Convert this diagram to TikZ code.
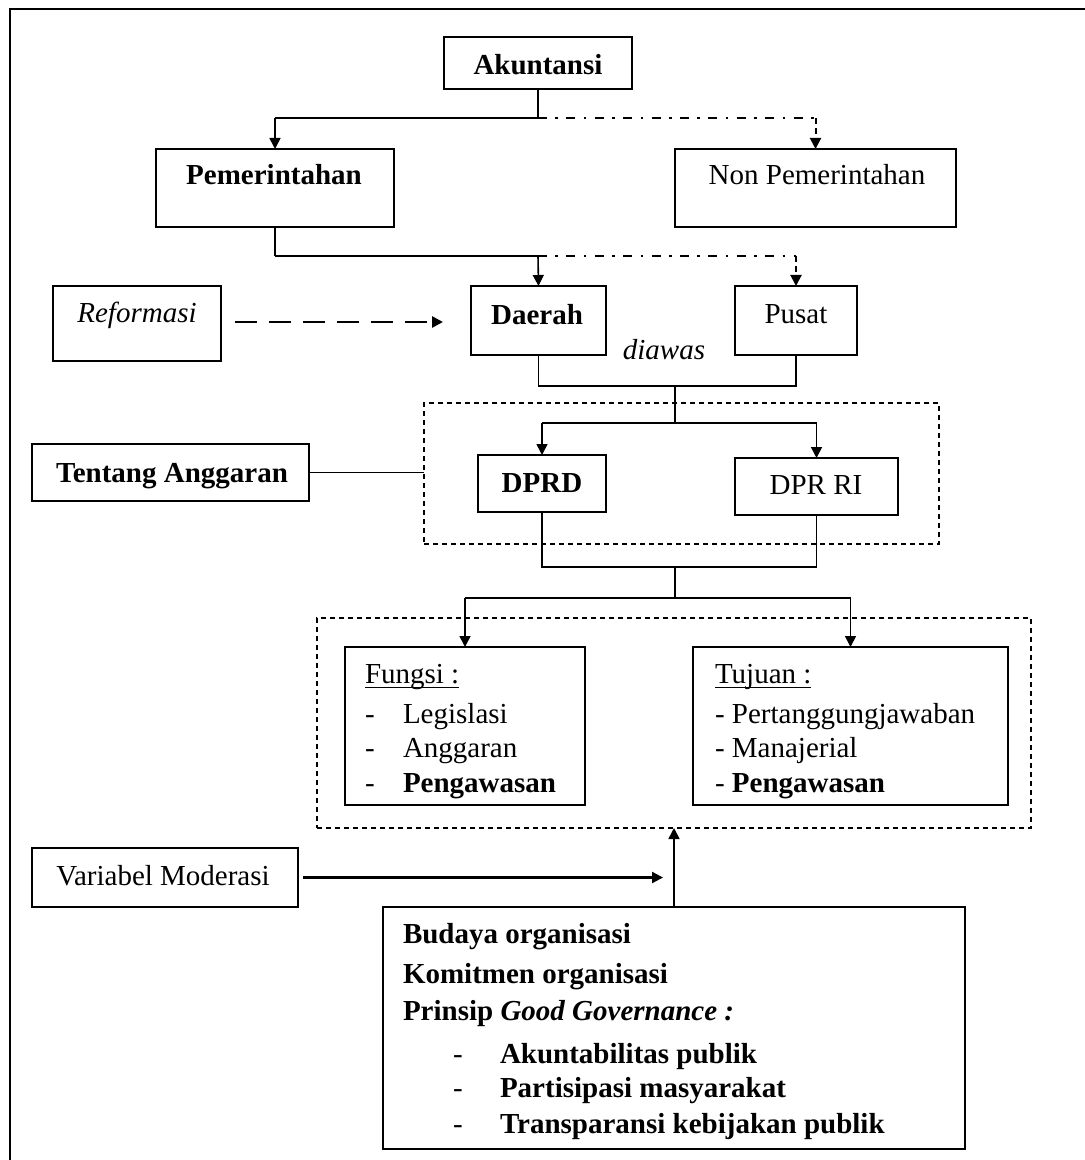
\documentclass[tikz,border=0pt]{standalone}
\usepackage{fontspec}
\setmainfont{Liberation Serif}
\usetikzlibrary{arrows.meta}
\newcommand\myuline[1]{\setbox0\hbox{#1}\rlap{\rule[-2.6pt]{\wd0}{0.8pt}}\box0}
\begin{document}
\begin{tikzpicture}[x=0.5pt,y=-0.5pt,
  every node/.style={font=\fontsize{14.5}{17}\selectfont, inner sep=0pt, outer sep=0pt},
  bx/.style={draw, line width=0.85pt, anchor=north west, inner sep=0pt},
  dbox/.style={draw, line width=0.75pt, dash pattern=on 2.5pt off 2pt, anchor=north west, inner sep=0pt},
  tx/.style={anchor=base},
  tl/.style={anchor=base west},
  cn/.style={line width=0.8pt},
  hz/.style={line width=1.2pt},
  dd/.style={line width=1pt, dash pattern=on 4.5pt off 4.2pt on 1.3pt off 4.2pt},
  dv/.style={line width=1pt, dash pattern=on 3pt off 2pt},
  arr/.style={-{Triangle[length=5.5pt,width=5.5pt]}}
]
\useasboundingbox (0,0) rectangle (1085,1160);
% outer frame (cropped on right and bottom)
\draw[line width=1pt] (10,1160) -- (10,9) -- (1085,9);

% boxes
\node[bx, minimum width=94pt, minimum height=26pt] (akun) at (444,37) {};
\node[bx, minimum width=119pt, minimum height=39pt] (pem) at (156,149) {};
\node[bx, minimum width=140.5pt, minimum height=39pt] (nonpem) at (675,149) {};
\node[bx, minimum width=84pt, minimum height=37.5pt] (refor) at (53,286) {};
\node[bx, minimum width=67.5pt, minimum height=34.5pt] (daerah) at (471,286) {};
\node[bx, minimum width=61pt, minimum height=34.5pt] (pusat) at (735,286) {};
\node[dbox, minimum width=257.5pt, minimum height=70.5pt] (boxA) at (424,403) {};
\node[bx, minimum width=138.5pt, minimum height=28.5pt] (tentang) at (32,444) {};
\node[bx, minimum width=64pt, minimum height=28.5pt] (dprd) at (478,455) {};
\node[bx, minimum width=81.5pt, minimum height=28.5pt] (dprri) at (735,458) {};
\node[dbox, minimum width=357pt, minimum height=105pt] (boxB) at (317,618) {};
\node[bx, minimum width=120pt, minimum height=79pt] (fungsi) at (345,647) {};
\node[bx, minimum width=157.5pt, minimum height=79pt] (tujuan) at (693,647) {};
\node[bx, minimum width=133pt, minimum height=29.5pt] (varmod) at (32,848) {};
\node[bx, minimum width=291pt, minimum height=121pt] (budaya) at (383,907) {};

% texts
\node[tx] (takun) at (538,75) {\textbf{Akuntansi}};
\node[tx] (tpem) at (274,185) {\textbf{Pemerintahan}};
\node[tx] (tnonpem) at (817,185) {Non Pemerintahan};
\node[tx] (trefor) at (137,322) {\textit{Reformasi}};
\node[tx] (tdaerah) at (537,324) {\textbf{Daerah}};
\node[tx] (tpusat) at (796,323) {Pusat};
\node[tx] (tdiawas) at (664,359) {\textit{diawas}};
\node[tx] (ttentang) at (172,482) {\textbf{Tentang Anggaran}};
\node[tx] (tdprd) at (542,492) {\textbf{DPRD}};
\node[tx] (tdprri) at (816,494) {DPR RI};
\node[tx] (tvarmod) at (163,885) {Variabel Moderasi};

\node[tl] (f0) at (365,683) {\myuline{Fungsi :}};
\node[tl] (f1d) at (365,723) {-};
\node[tl] (f1) at (403,723) {Legislasi};
\node[tl] (f2d) at (365,757) {-};
\node[tl] (f2) at (403,757) {Anggaran};
\node[tl] (f3d) at (365,792) {-};
\node[tl] (f3) at (403,792) {\textbf{Pengawasan}};

\node[tl] (u0) at (715,683) {\myuline{Tujuan :}};
\node[tl] (u1) at (715,723) {- Pertanggungjawaban};
\node[tl] (u2) at (715,757) {- Manajerial};
\node[tl] (u3) at (715,792) {- \textbf{Pengawasan}};

\node[tl] (b1) at (403,943) {\textbf{Budaya organisasi}};
\node[tl] (b2) at (403,983) {\textbf{Komitmen organisasi}};
\node[tl] (b3) at (403,1020) {\textbf{Prinsip \textit{Good Governance :}}};
\node[tl] (b4d) at (453,1063) {-};
\node[tl] (b4) at (500,1063) {\textbf{Akuntabilitas publik}};
\node[tl] (b5d) at (453,1097) {-};
\node[tl] (b5) at (500,1097) {\textbf{Partisipasi masyarakat}};
\node[tl] (b6d) at (453,1133) {-};
\node[tl] (b6) at (500,1133) {\textbf{Transparansi kebijakan publik}};

% junctions
\coordinate (j1) at (538,118);
\coordinate (j2) at (538,256);
\coordinate (j3) at (675,386);
\coordinate (j4) at (675,423);
\coordinate (j5) at (675,567);
\coordinate (j6) at (675,598);
\coordinate (vmend) at (663,877.5);

% Akuntansi -> Pemerintahan / Non Pemerintahan
\draw[cn] (akun.south) -- (j1);
\draw[hz] (j1) -- (j1 -| pem.north);
\draw[cn,arr] (j1 -| pem.north) -- (pem.north);
\draw[dd] (j1) -- (j1 -| nonpem.north);
\draw[dv,arr] (j1 -| nonpem.north) -- (nonpem.north);

% Pemerintahan -> Daerah / Pusat
\draw[cn] (pem.south) -- (pem.south |- j2);
\draw[hz] (pem.south |- j2) -- (j2);
\draw[cn,arr] (j2) -- (daerah.north);
\draw[dd] (j2) -- (j2 -| pusat.north);
\draw[dv,arr] (j2 -| pusat.north) -- (pusat.north);

% Reformasi -> Daerah
\draw[line width=1.3pt, dash pattern=on 11pt off 6pt, arr, shorten <=7pt, shorten >=14pt]
  (refor.east |- 0,322) -- (daerah.west |- 0,322);

% Daerah/Pusat -> DPRD / DPR RI
\draw[cn] (daerah.south) -- (daerah.south |- j3) -- (pusat.south |- j3) -- (pusat.south);
\draw[cn] (j3) -- (j4);
\draw[hz] (j4 -| dprd.north) -- (j4 -| dprri.north);
\draw[cn,arr] (j4 -| dprd.north) -- (dprd.north);
\draw[cn,arr] (j4 -| dprri.north) -- (dprri.north);

% Tentang Anggaran link
\draw[cn] (tentang.east) -- (tentang.east -| boxA.west);

% DPRD/DPR RI -> Fungsi / Tujuan
\draw[cn] (dprd.south) -- (dprd.south |- j5) -- (dprri.south |- j5) -- (dprri.south);
\draw[cn] (j5) -- (j6);
\draw[hz] (j6 -| fungsi.north) -- (j6 -| tujuan.north);
\draw[cn,arr] (j6 -| fungsi.north) -- (fungsi.north);
\draw[cn,arr] (j6 -| tujuan.north) -- (tujuan.north);

% moderation
\draw[line width=1.1pt, arr, shorten <=2.5pt] (varmod.east) -- (vmend);
\draw[cn,arr] (budaya.north) -- (boxB.south);
\end{tikzpicture}
\end{document}
